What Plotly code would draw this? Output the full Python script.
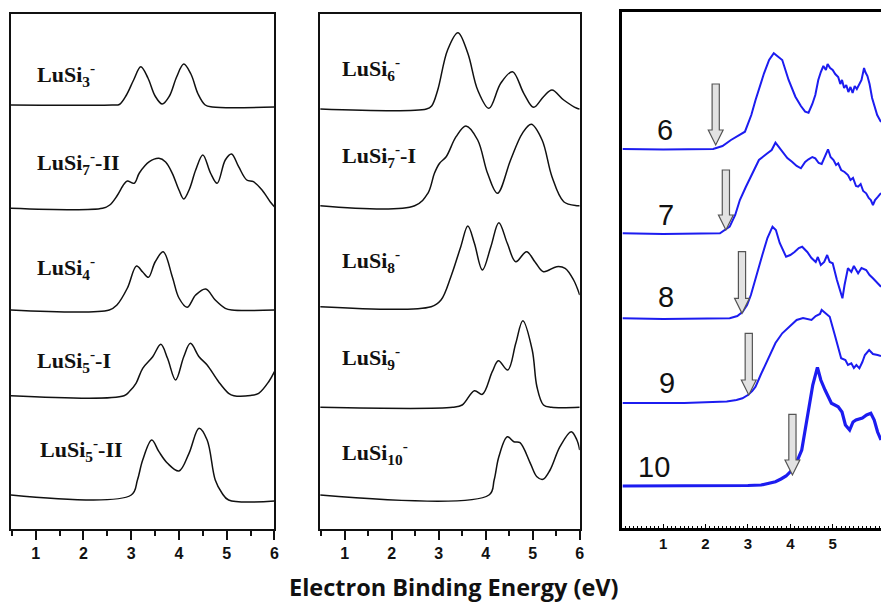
import plotly.graph_objects as go

# ---------------- DATA ----------------
# Left panel: simulated spectra (energy eV, intensity a.u. incl. stacking offset)
lusi3_e = [0.48, 2.6, 2.75, 2.9, 3.05, 3.2, 3.35, 3.5, 3.65, 3.8, 3.95, 4.1, 4.25, 4.4, 4.55, 4.7, 6.0]
lusi3_y = [424, 424, 424.5, 434, 449, 462.3, 451, 433, 425, 433, 452, 465, 455, 435, 424, 422, 422]

lusi7ii_e = [0.48, 2.4, 2.55, 2.7, 2.85, 2.92, 3.06, 3.17, 3.38, 3.58, 3.72, 3.86, 4.0, 4.10, 4.22, 4.35, 4.5,
             4.66, 4.80, 4.97, 5.10, 5.25, 5.42, 5.56, 5.74, 5.91, 6.0]
lusi7ii_y = [320.7, 320.7, 324, 333, 345, 348, 345.7, 356, 367.3, 370.7, 367, 355.7, 339, 330, 340, 359, 374,
             356, 345.7, 369, 375, 362.3, 349, 347.3, 339, 327.3, 322.3]

lusi4_e = [0.48, 2.54, 2.7, 2.92, 3.11, 3.24, 3.36, 3.5, 3.67, 3.86, 4.0, 4.17, 4.35, 4.56, 4.76, 4.97, 5.11, 6.0]
lusi4_y = [219, 219, 224, 241, 263, 257, 251.7, 267, 277.3, 252.3, 231, 221.7, 234, 240, 229, 220.7, 219, 219]

lusi5i_e = [0.48, 2.85, 2.97, 3.10, 3.24, 3.45, 3.62, 3.76, 3.93, 4.1, 4.24, 4.42, 4.59, 4.83, 5.04, 5.15, 5.5,
            5.67, 5.88, 6.0]
lusi5i_y = [133.3, 133.3, 138, 145.7, 160.7, 172.3, 184.7, 170.7, 149, 172.3, 185.7, 172.3, 164, 147.3, 135.7,
            133.3, 133.5, 135.7, 147.3, 157.3]

lusi5ii_e = [0.48, 3.0, 3.13, 3.24, 3.43, 3.58, 3.76, 4.0, 4.21, 4.42, 4.59, 4.76, 4.9, 5.04, 6.0]
lusi5ii_y = [34, 34, 49, 69, 89, 77.3, 65.7, 58, 75.7, 100.7, 89, 49, 36, 29, 28]

# Middle panel
lusi6_e = [0.48, 2.74, 2.85, 2.98, 3.19, 3.41, 3.62, 3.83, 4.07, 4.32, 4.57, 4.81, 5.02, 5.23, 5.41, 5.66, 5.94, 6.0]
lusi6_y = [420, 420, 423, 439, 479, 496.3, 475.7, 439, 420.7, 445.7, 457.3, 435.7, 421.7, 432.3, 439, 429, 420.7, 420]

lusi7i_e = [0.48, 2.49, 2.77, 2.91, 3.02, 3.16, 3.37, 3.58, 3.83, 4.04, 4.25, 4.53, 4.78, 4.97, 5.2, 5.41, 5.66,
            5.94, 6.0]
lusi7i_y = [323.3, 323.3, 335.7, 355.7, 365.7, 372.3, 392.3, 403, 389, 355.7, 335.7, 369, 395.7, 404.7, 389,
            352.3, 327.3, 323.3, 323.3]

lusi8_e = [0.48, 2.84, 3.05, 3.26, 3.47, 3.62, 3.76, 3.93, 4.11, 4.28, 4.46, 4.64, 4.87, 5.05, 5.23, 5.51, 5.69,
           5.87, 6.0]
lusi8_y = [222.3, 222.3, 229, 252.3, 282.3, 303, 285.7, 259, 282.3, 306.3, 285.7, 267.3, 277.3, 267, 257.3,
           262.3, 260.7, 249, 234]

lusi9_e = [0.48, 3.3, 3.5, 3.76, 3.93, 4.14, 4.27, 4.47, 4.64, 4.79, 4.99, 5.09, 5.23, 5.4, 6.0]
lusi9_y = [121.7, 121.7, 124, 138.3, 134.7, 157.3, 168.3, 159, 185.7, 208.3, 179, 142.3, 124, 121.7, 121.7]

lusi10_e = [0.48, 4.07, 4.18, 4.28, 4.46, 4.6, 4.73, 4.95, 5.09, 5.22, 5.37, 5.58, 5.82, 5.94, 6.0]
lusi10_y = [34, 34, 49, 72.3, 92.3, 87.3, 86.3, 65.7, 52.3, 49.7, 59, 82.3, 97.3, 89, 79]

left_labels = ["LuSi<sub>3</sub><sup>-</sup>", "LuSi<sub>7</sub><sup>-</sup>-II", "LuSi<sub>4</sub><sup>-</sup>",
               "LuSi<sub>5</sub><sup>-</sup>-I", "LuSi<sub>5</sub><sup>-</sup>-II"]
left_label_e = [0.98, 0.98, 0.98, 0.98, 1.04]
left_label_y = [455, 367, 262, 169, 80]

mid_labels = ["LuSi<sub>6</sub><sup>-</sup>", "LuSi<sub>7</sub><sup>-</sup>-I", "LuSi<sub>8</sub><sup>-</sup>",
              "LuSi<sub>9</sub><sup>-</sup>", "LuSi<sub>10</sub><sup>-</sup>"]
mid_label_e = [0.9, 0.9, 0.9, 0.9, 0.9]
mid_label_y = [461, 374, 269, 172, 77]

# Right panel: experimental spectra
exp6_e = [0.04, 1.0, 2.18, 2.4, 2.6, 2.81, 2.93, 3.08, 3.18, 3.38, 3.5, 3.61, 3.7, 3.81, 3.96, 4.12, 4.25, 4.35,
          4.43, 4.52, 4.59, 4.66, 4.72, 4.78, 4.84, 4.88, 4.94, 5.0, 5.06, 5.13, 5.18, 5.22, 5.27, 5.32, 5.37,
          5.42, 5.47, 5.52, 5.57, 5.62, 5.68, 5.74, 5.77, 5.82, 5.87, 5.93, 5.99, 6.05, 6.14]
exp6_y = [379, 378.5, 379, 382, 388, 393, 396.3, 413, 428, 454.7, 468, 474.7, 472, 468, 448, 431.3, 422, 416.3,
          415.3, 424, 433, 448, 456, 462, 458, 464, 460, 458, 454, 451, 444, 448, 440, 443, 436,
          441, 435, 442, 439, 443, 448, 460, 456, 452, 444, 430, 421.3, 413, 406]

exp7_e = [0.04, 1.0, 2.34, 2.5, 2.57, 2.7, 2.81, 2.95, 3.03, 3.12, 3.26, 3.46, 3.56, 3.65, 3.75, 3.84, 3.93, 4.04,
          4.15, 4.25, 4.35, 4.43, 4.52, 4.59, 4.67, 4.74, 4.8, 4.89, 4.95, 5.02, 5.08, 5.13, 5.2, 5.28, 5.36,
          5.42, 5.48, 5.55, 5.6, 5.66, 5.72, 5.79, 5.85, 5.9, 5.95, 6.0, 6.07, 6.14]
exp7_y = [294.7, 294, 294.7, 299, 301.3, 313, 328, 341, 348, 354.7, 368, 374.7, 378, 385.3, 380, 374.7, 370, 366.3,
          362, 359.7, 366, 368.7, 371, 369.7, 365, 364, 370, 378.7, 371, 368, 363, 364.7, 358, 356, 353,
          348, 350, 342, 341.3, 344, 337, 334.7, 330, 328, 323, 328, 331.3, 335]

exp8_e = [0.04, 1.0, 2.57, 2.75, 2.87, 2.98, 3.07, 3.2, 3.34, 3.46, 3.58, 3.66, 3.75, 3.9, 4.0, 4.1, 4.2, 4.28,
          4.4, 4.5, 4.6, 4.65, 4.72, 4.8, 4.87, 4.93, 5.0, 5.1, 5.18, 5.23, 5.28, 5.36, 5.44, 5.5, 5.6, 5.68,
          5.79, 5.87, 5.95, 6.05, 6.14]
exp8_y = [209.7, 209, 209.7, 212, 216, 223, 233, 253, 273, 290, 301.3, 298, 285, 271.3, 273, 276, 280, 281.3,
          276, 270, 266, 271, 263, 266, 273, 266, 264.7, 248, 238, 229.7, 243, 259.7, 256, 262, 254.7, 260,
          258, 253, 249.7, 245, 241.3]

exp9_e = [0.04, 1.5, 2.5, 2.73, 2.87, 3.0, 3.1, 3.18, 3.3, 3.49, 3.65, 3.81, 3.97, 4.15, 4.3, 4.5, 4.6, 4.7,
          4.74, 4.8, 4.93, 5.05, 5.15, 5.2, 5.3, 5.36, 5.44, 5.5, 5.56, 5.63, 5.7, 5.76, 5.86, 5.95, 6.06, 6.14]
exp9_y = [125, 125, 126.5, 128, 129.7, 133, 137, 141.3, 153, 171.3, 185, 194.7, 201, 208, 210, 208, 212, 214,
          218, 216, 211.3, 193, 176, 169.7, 168, 163, 164.7, 160, 163, 159.7, 166, 173, 178, 174, 173, 172]

exp10_e = [0.04, 2.0, 3.0, 3.31, 3.65, 3.78, 3.9, 4.04, 4.15, 4.27, 4.35, 4.43, 4.53, 4.64, 4.72, 4.82, 4.9,
           4.97, 5.05, 5.13, 5.22, 5.3, 5.4, 5.48, 5.55, 5.7, 5.8, 5.9, 5.98, 6.06, 6.14]
exp10_y = [42, 42, 42.5, 43, 46.3, 49, 52, 58, 66, 78, 98, 118, 143, 160.7, 148, 138, 130,
           124.7, 123, 121.3, 116, 103, 98, 106, 108, 110, 113, 114.7, 108, 96, 88]

exp_labels = ["6", "7", "8", "9", "10"]
exp_label_e = [1.05, 1.07, 1.07, 1.09, 0.79]
exp_label_y = [398, 313, 231, 145, 61]

# detachment-threshold arrows (energy, tail top, tip)
arrow_e = [2.24, 2.48, 2.86, 3.02, 4.05]
arrow_top = [444, 358, 276.3, 194.7, 113.7]
arrow_tip = [383, 298, 214.7, 133, 53]

tick_vals = [1, 2, 3, 4, 5, 6]
tick_vals_right = [1, 2, 3, 4, 5]

# ---------------- FIGURE ----------------
W, H = 886, 604
fig = go.Figure()

def px_x(p):
    return p / W

def px_y(p):
    return 1 - p / H

BLACK = "#111111"
BLUE = "#1c1cf0"

left_curves = [(lusi3_e, lusi3_y), (lusi7ii_e, lusi7ii_y), (lusi4_e, lusi4_y), (lusi5i_e, lusi5i_y),
               (lusi5ii_e, lusi5ii_y)]
mid_curves = [(lusi6_e, lusi6_y), (lusi7i_e, lusi7i_y), (lusi8_e, lusi8_y), (lusi9_e, lusi9_y),
              (lusi10_e, lusi10_y)]
for e, y in left_curves:
    fig.add_trace(go.Scatter(x=e, y=y, mode="lines", xaxis="x", yaxis="y",
                             line=dict(color=BLACK, width=1.5, shape="spline", smoothing=1.0)))
for e, y in mid_curves:
    fig.add_trace(go.Scatter(x=e, y=y, mode="lines", xaxis="x2", yaxis="y2",
                             line=dict(color=BLACK, width=1.5, shape="spline", smoothing=1.0)))

exp_curves = [(exp6_e, exp6_y, 2), (exp7_e, exp7_y, 2), (exp8_e, exp8_y, 2), (exp9_e, exp9_y, 2),
              (exp10_e, exp10_y, 3.2)]
for e, y, w in exp_curves:
    fig.add_trace(go.Scatter(x=e, y=y, mode="lines", xaxis="x3", yaxis="y3",
                             line=dict(color=BLUE, width=w)))

# arrows as shapes
shaft_hw = 0.085
head_hw = 0.175
head_h = 15
for xe, top, tip in zip(arrow_e, arrow_top, arrow_tip):
    neck = tip + head_h
    path = (f"M {xe-shaft_hw},{top} L {xe+shaft_hw},{top} L {xe+shaft_hw},{neck} L {xe+head_hw},{neck} "
            f"L {xe},{tip} L {xe-head_hw},{neck} L {xe-shaft_hw},{neck} Z")
    fig.add_shape(type="path", path=path, xref="x3", yref="y3", layer="above",
                  fillcolor="#e2e2e2", line=dict(color="#555555", width=1.2))

label_font = dict(family="Liberation Serif, Times New Roman, serif", size=22, color=BLACK)
for t, xe, yv in zip(left_labels, left_label_e, left_label_y):
    fig.add_annotation(text=f"<b>{t}</b>", x=xe, y=yv, xref="x", yref="y", xanchor="left",
                       yanchor="middle", showarrow=False, font=label_font)
for t, xe, yv in zip(mid_labels, mid_label_e, mid_label_y):
    fig.add_annotation(text=f"<b>{t}</b>", x=xe, y=yv, xref="x2", yref="y2", xanchor="left",
                       yanchor="middle", showarrow=False, font=label_font)
for t, xe, yv in zip(exp_labels, exp_label_e, exp_label_y):
    fig.add_annotation(text=t, x=xe, y=yv, xref="x3", yref="y3", xanchor="center",
                       yanchor="middle", showarrow=False,
                       font=dict(family="Liberation Sans, Arial, sans-serif", size=29, color="#111111"))

fig.add_annotation(text="<b>Electron Binding Energy (eV)</b>", x=px_x(456.5), y=px_y(587), xref="paper",
                   yref="paper", xanchor="center", yanchor="middle", showarrow=False,
                   font=dict(family="Open Sans, sans-serif", size=23.5, color="#111111"))

tickfont = dict(family="Liberation Sans, Arial, sans-serif", size=16, color=BLACK, weight="bold")
common_x = dict(showline=True, linecolor=BLACK, linewidth=1.5, mirror=True, ticks="outside",
                ticklen=9, tickwidth=1.5, tickcolor=BLACK, tickvals=tick_vals, range=[0.48, 6.0],
                showgrid=False, zeroline=False, tickfont=tickfont,
                minor=dict(ticks="outside", ticklen=5, tickwidth=1.5, tickcolor=BLACK, dtick=0.5, tick0=0.5))
common_y = dict(showline=True, linecolor=BLACK, linewidth=1.5, mirror=True, ticks="",
                showticklabels=False, showgrid=False, zeroline=False, range=[0, 515],
                domain=[px_y(529), px_y(14)])

fig.update_layout(
    width=W, height=H, margin=dict(l=0, r=0, t=0, b=0),
    paper_bgcolor="white", plot_bgcolor="white", showlegend=False,
    xaxis=dict(domain=[px_x(11), px_x(276)], anchor="y", **common_x),
    xaxis2=dict(domain=[px_x(322), px_x(583)], anchor="y2", **common_x),
    yaxis=dict(anchor="x", **common_y),
    yaxis2=dict(anchor="x2", **common_y),
    xaxis3=dict(domain=[px_x(626), 1.0], anchor="y3", range=[0.04, 6.14], showline=True, linecolor="#000000",
                linewidth=3, mirror=True, ticks="inside", ticklen=4, tickwidth=1.2, tickcolor="#000000",
                tickvals=tick_vals_right, showgrid=False, zeroline=False,
                tickfont=dict(family="Liberation Sans, Arial, sans-serif", size=15, color=BLACK,
                              weight="bold"),
                minor=dict(ticks="inside", ticklen=2.5, tickwidth=1, tickcolor="#000000", dtick=0.1, tick0=0)),
    yaxis3=dict(anchor="x3", domain=[px_y(528), px_y(12)], range=[0, 516], showline=True, linecolor="#000000",
                linewidth=3, mirror=False, ticks="", showticklabels=False, showgrid=False, zeroline=False),
)

fig.write_html("out.html")
